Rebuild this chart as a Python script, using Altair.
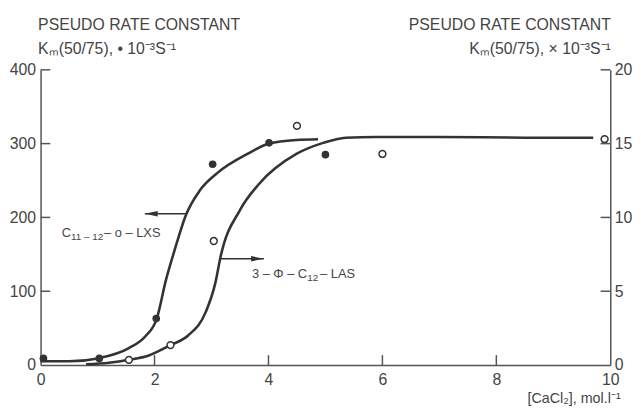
import altair as alt
import pandas as pd

FONT = "Liberation Sans"
INK = "#333333"
TXT = "#444444"

# ---- data ----
# C11-12-o-LXS (filled points, left axis)
lxs_x = [0.05, 1.03, 2.03, 3.02, 4.01, 5.0]
lxs_y = [9, 9, 63, 272, 301, 285]
lxs_curve_x = [0, 0.5, 1.0, 1.55, 1.84, 2.04, 2.2, 2.35, 2.55, 2.8, 3.1, 3.63, 4.01, 4.49, 4.87]
lxs_curve_y = [5, 5, 9, 23, 39, 63, 115, 155, 203, 237, 260, 286, 300, 305, 306]

# 3-Phi-C12-LAS (open points, right axis)
las_x = [1.55, 2.28, 3.04, 4.5, 6.0, 9.9]
las_y = [0.35, 1.35, 8.4, 16.2, 14.3, 15.3]
las_curve_x = [0.8, 1.2, 1.55, 1.9, 2.28, 2.59, 2.9, 3.07, 3.16, 3.5, 3.83, 4.49, 4.96, 5.36, 5.88, 7.0, 8.5, 9.7]
las_curve_y = [0.05, 0.15, 0.35, 0.65, 1.35, 2.0, 3.6, 5.6, 7.35, 10.5, 12.25, 14.3, 15.05, 15.4, 15.45, 15.45, 15.4, 15.4]

x_ticks = [0, 2, 4, 6, 8, 10]
left_ticks = [0, 100, 200, 300, 400]
right_ticks = [0, 5, 10, 15, 20]

# annotation labels (anchor in data units, left axis)
label_x = [0.37, 3.71]
label_y = [174, 118]
lxs_parts = ["C", "11 \u2013 12", "\u2013 o \u2013 LXS"]
las_parts = ["3 \u2013 \u03a6 \u2013 C", "12", "\u2013 LAS"]

# arrows (left-axis units)
arrow_from = [2.55, 3.16]
arrow_to = [1.83, 3.92]
arrow_y = [205, 144]

TICK_DX = 0.17   # inward tick length in x units
TICK_DY = 13.4   # inward tick length in left-y units

# ---- scales & axes ----
xscale = alt.Scale(domain=[0, 10], nice=False, zero=False)
ylscale = alt.Scale(domain=[0, 400], nice=False)
yrscale = alt.Scale(domain=[0, 20], nice=False)

common = dict(grid=False, ticks=False, tickSize=0, domainColor="#555555", domainWidth=1.5,
              labelFont=FONT, labelFontSize=16, labelColor=TXT, labelFlush=False,
              titleFont=FONT, titleFontWeight="normal", titleColor=TXT)

xaxis = alt.Axis(values=x_ticks, labelPadding=7, title="[CaCl\u2082],  mol.l\u207b\u00b9",
                 titleX=587, titleY=38, titleAlign="right", titleBaseline="alphabetic",
                 titleFontSize=14.5, **common)
ylaxis = alt.Axis(values=left_ticks, labelPadding=5, orient="left",
                  title=["PSEUDO RATE CONSTANT", "K\u2098(50/75),  \u2022  10\u207b\u00b3S\u207b\u00b9"],
                  titleAngle=0, titleX=-3, titleY=-41, titleAlign="left", titleBaseline="alphabetic",
                  titleLineHeight=25, titleFontSize=16, **common)
yraxis = alt.Axis(values=right_ticks, labelPadding=4, orient="right",
                  title=["PSEUDO RATE CONSTANT", "K\u2098(50/75),  \u00d7  10\u207b\u00b3S\u207b\u00b9"],
                  titleAngle=0, titleX=0, titleY=-41, titleAlign="right", titleBaseline="alphabetic",
                  titleLineHeight=25, titleFontSize=16, **common)

X = alt.X("x:Q", scale=xscale, axis=xaxis)
YL = alt.Y("y:Q", scale=ylscale, axis=ylaxis)
YR = alt.Y("y:Q", scale=yrscale, axis=yraxis)

# ---- left group ----
lxs_line = alt.Chart(pd.DataFrame({"x": lxs_curve_x, "y": lxs_curve_y})).mark_line(
    color=INK, strokeWidth=2.6, interpolate="monotone").encode(x=X, y=YL)
lxs_pts = alt.Chart(pd.DataFrame({"x": lxs_x, "y": lxs_y})).mark_circle(
    size=60, color=INK, opacity=1).encode(x=X, y=YL)

lt = pd.DataFrame({"x": [0] * 4, "x2": [TICK_DX] * 4, "y": left_ticks[1:]})
left_tick_rules = alt.Chart(lt).mark_rule(color="#555555", strokeWidth=1.5).encode(
    x=X, x2="x2:Q", y=YL)
xt = pd.DataFrame({"x": x_ticks[1:-1], "y": [0] * 4, "y2": [TICK_DY] * 4})
x_tick_rules = alt.Chart(xt).mark_rule(color="#555555", strokeWidth=1.5).encode(
    x=X, y=YL, y2="y2:Q")

arr = pd.DataFrame({"x": arrow_from, "x2": arrow_to, "y": arrow_y})
arrow_lines = alt.Chart(arr).mark_rule(color=INK, strokeWidth=1.4).encode(x=X, x2="x2:Q", y=YL)
heads = pd.DataFrame({"x": arrow_to, "y": arrow_y,
                      "shape": ["M0,0L2,-0.42L2,0.42Z", "M0,0L-2,-0.42L-2,0.42Z"]})
arrow_heads = alt.Chart(heads).mark_point(filled=True, color=INK, size=170, opacity=1).encode(
    x=X, y=YL, shape=alt.Shape("shape:N", scale=None))


def piece(text, i, dx, dy, size):
    df = pd.DataFrame({"x": [label_x[i]], "y": [label_y[i]], "t": [text]})
    return alt.Chart(df).mark_text(font=FONT, fontSize=size, color=TXT, align="left",
                                   baseline="alphabetic", dx=dx, dy=dy).encode(
        x=X, y=YL, text="t:N")


label_layers = [
    piece(lxs_parts[0], 0, 0, 0, 13),
    piece(lxs_parts[1], 0, 9.5, 3, 10),
    piece(lxs_parts[2], 0, 43, 0, 13),
    piece(las_parts[0], 1, 0, 0, 13),
    piece(las_parts[1], 1, 56, 3, 10),
    piece(las_parts[2], 1, 69, 0, 13),
]

left_group = alt.layer(lxs_line, lxs_pts, left_tick_rules, x_tick_rules, arrow_lines,
                       arrow_heads, *label_layers)

# ---- right group ----
las_line = alt.Chart(pd.DataFrame({"x": las_curve_x, "y": las_curve_y})).mark_line(
    color=INK, strokeWidth=2.6, interpolate="monotone").encode(x=X, y=YR)
las_pts = alt.Chart(pd.DataFrame({"x": las_x, "y": las_y})).mark_point(
    filled=True, fill="white", stroke=INK, strokeWidth=1.5, size=48, opacity=1).encode(x=X, y=YR)
rt = pd.DataFrame({"x": [10 - TICK_DX] * 4, "x2": [10] * 4, "y": right_ticks[1:]})
right_tick_rules = alt.Chart(rt).mark_rule(color="#555555", strokeWidth=1.5).encode(
    x=X, x2="x2:Q", y=YR)

right_group = alt.layer(las_line, las_pts, right_tick_rules)

chart = alt.layer(left_group, right_group).resolve_scale(y="independent").properties(
    width=577, height=299,
    padding={"left": 33, "top": 60, "right": 23, "bottom": 47},
    autosize=alt.AutoSizeParams(type="none"),
    background="white",
).configure_view(strokeWidth=0)

chart.save("out.html", embed_options={"renderer": "svg", "actions": False})
